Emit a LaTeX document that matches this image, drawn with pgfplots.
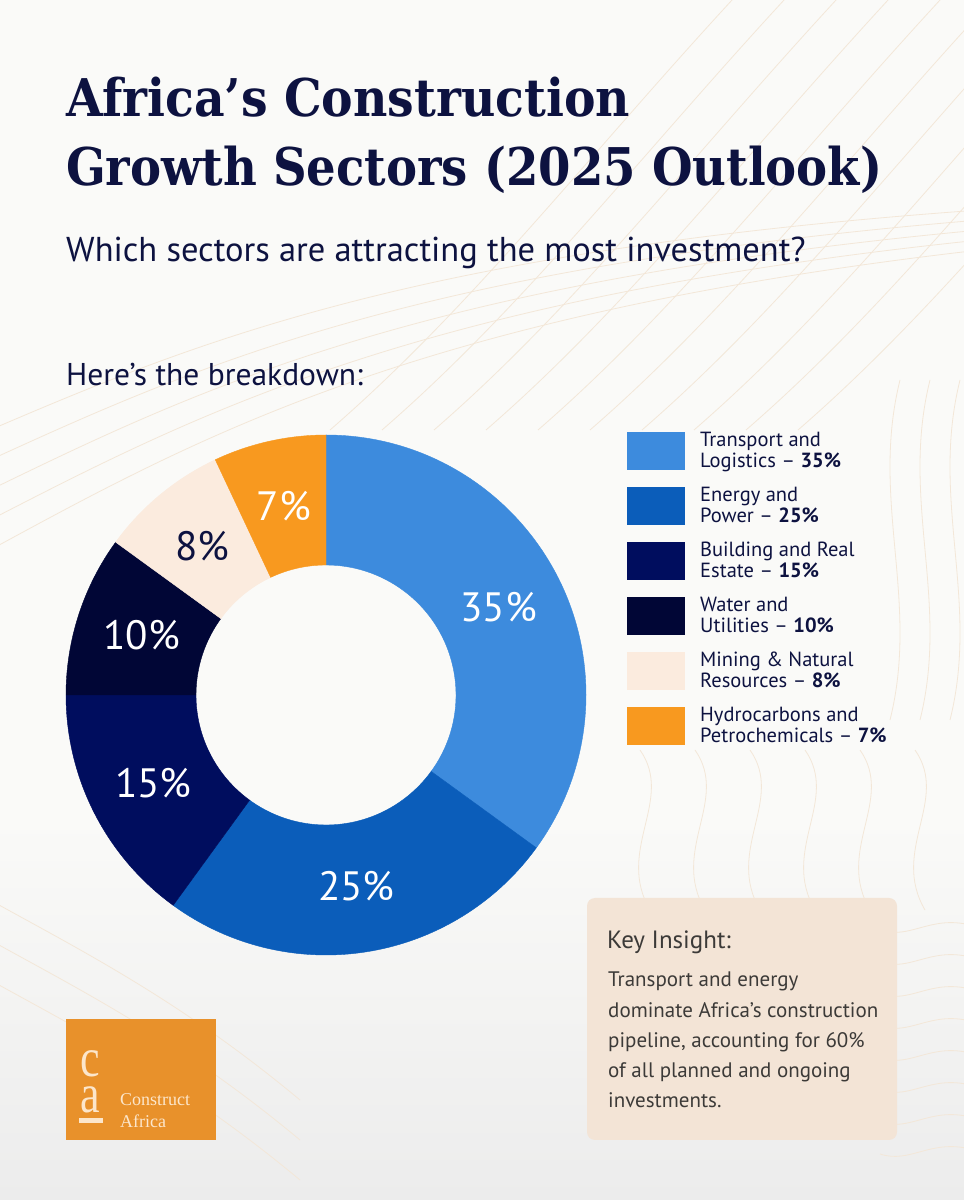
\documentclass[border=0pt]{standalone}
\usepackage{pgfplots}
\pgfplotsset{compat=1.18}
\usepackage{pgfplotstable}
\usepackage{graphicx}
\usepackage{fontspec}
\setmainfont{PT Sans}
\newfontfamily\titlefont{DejaVu Serif}
\newfontfamily\logofont{Liberation Serif}

\definecolor{bg}{HTML}{FAFAF8}
\definecolor{bgbottom}{HTML}{ECECEC}
\definecolor{navy}{HTML}{0D1240}
\definecolor{cTransport}{HTML}{3D8BDD}
\definecolor{cEnergy}{HTML}{0B5DBA}
\definecolor{cBuilding}{HTML}{000D5E}
\definecolor{cWater}{HTML}{010636}
\definecolor{cMining}{HTML}{FBEBDE}
\definecolor{cHydro}{HTML}{F8991F}
\definecolor{contour}{HTML}{F3E7D8}
\definecolor{insight}{HTML}{F3E4D6}
\definecolor{insighttext}{HTML}{3C3A38}
\definecolor{logo}{HTML}{E8912B}
\definecolor{logotext}{HTML}{FCE6CB}

% share of investment by sector, clockwise from 12 o'clock
\pgfplotstableread{
value colour     labelcolour
35    cTransport white
25    cEnergy    white
15    cBuilding  white
10    cWater     white
8     cMining    navy
7     cHydro     white
}\sectors

\begin{document}
\begin{tikzpicture}[x=1pt,y=1pt]
\useasboundingbox (0,0) rectangle (964,1200);
\fill[bg] (0,0) rectangle (964,1200);
\shade[bottom color=bgbottom, top color=bg] (0,0) rectangle (964,380);

% faint contour lines in the background
\begin{scope}
\clip (0,0) rectangle (964,1200);
\foreach \k in {0,...,9}{
  \draw[contour, line width=0.8pt] ({330+52*\k},770) .. controls ({480+52*\k},900) and ({600+52*\k},1060) .. ({760+52*\k},1230);
}
\foreach \k in {0,...,4}{
  \draw[contour, line width=0.8pt] (-10,{770-30*\k}) .. controls (200,{860-24*\k}) and (420,{950-16*\k}) .. (980,{990-10*\k});
}
\foreach \k in {0,...,5}{
  \draw[contour, line width=0.8pt] ({640+55*\k},450) .. controls ({675+55*\k},400) and ({615+55*\k},350) .. ({650+55*\k},290);
}
\foreach \k in {0,...,7}{
  \draw[contour, line width=0.8pt] (880,{270-32*\k}) .. controls (910,{260-32*\k}) and (930,{285-32*\k}) .. (970,{275-32*\k});
}
\foreach \k in {0,...,2}{
  \draw[contour, line width=0.8pt] ({900+30*\k},820) .. controls ({870+30*\k},700) and ({920+30*\k},600) .. ({890+30*\k},480);
  \draw[contour, line width=0.8pt] (-10,{300-40*\k}) .. controls (80,{250-40*\k}) and (180,{200-40*\k}) .. (300,{100-40*\k});
}
\end{scope}

% titles
\node[anchor=base west, inner sep=0, text=navy] at (66,1083)
  {\resizebox{564pt}{\height}{\fontsize{52}{60}\titlefont\bfseries Africa’s Construction}};
\node[anchor=base west, inner sep=0, text=navy] at (66,1014)
  {\resizebox{816pt}{\height}{\fontsize{52}{60}\titlefont\bfseries Growth Sectors (2025 Outlook)}};
\node[anchor=base west, inner sep=0, text=navy, font=\fontsize{34.5}{38}\selectfont] at (66,938)
  {Which sectors are attracting the most investment?};
\node[anchor=base west, inner sep=0, text=navy, font=\fontsize{31.5}{34}\selectfont] at (66,814)
  {Here’s the breakdown:};

% donut
\begin{axis}[
    at={(326pt,505pt)}, anchor=center,
    scale only axis, width=520pt, height=520pt,
    xmin=-1, xmax=1, ymin=-1, ymax=1,
    hide axis, clip=false,
]
\pgfplotsextra{
  \xdef\startangle{90}
  \foreach \i in {0,...,5}{
    \pgfplotstablegetelem{\i}{value}\of\sectors \let\v\pgfplotsretval
    \pgfplotstablegetelem{\i}{colour}\of\sectors \let\c\pgfplotsretval
    \pgfplotstablegetelem{\i}{labelcolour}\of\sectors \let\lc\pgfplotsretval
    \pgfmathsetmacro\a{\startangle}
    \pgfmathsetmacro\b{\startangle-3.6*\v}
    \pgfmathsetmacro\m{(\a+\b)/2}
    \fill[fill=\c, draw=\c, line width=0.4pt] (axis cs:{cos(\a)},{sin(\a)})
      arc[start angle=\a, end angle=\b, radius=260pt]
      -- (axis cs:{0.5*cos(\b)},{0.5*sin(\b)})
      arc[start angle=\b, end angle=\a, radius=130pt] -- cycle;
    \node[text=\lc, font=\fontsize{41}{44}\selectfont] at (axis cs:{0.745*cos(\m)},{0.745*sin(\m)}) {\v\%};
    \xdef\startangle{\b}
  }
}
\end{axis}

% legend
\foreach \i/\la/\lb in {0/Transport and/Logistics, 1/Energy and/Power,
    2/Building and Real/Estate, 3/Water and/Utilities,
    4/Mining \& Natural/Resources, 5/Hydrocarbons and/Petrochemicals}{
  \pgfplotstablegetelem{\i}{value}\of\sectors \let\v\pgfplotsretval
  \pgfplotstablegetelem{\i}{colour}\of\sectors \let\c\pgfplotsretval
  \pgfmathsetmacro\yt{768-55*\i}
  \fill[fill=\c] (627,{\yt-38}) rectangle (685,\yt);
  \node[anchor=base west, inner sep=0, text=navy, font=\fontsize{20.5}{22}\selectfont] at (700,{\yt-15}) {\la};
  \node[anchor=base west, inner sep=0, text=navy, font=\fontsize{20.5}{22}\selectfont] at (700,{\yt-36}) {\lb{} – \textbf{\v\%}};
}

% key insight box
\fill[insight, rounded corners=8pt] (587,60) rectangle (897,302);
\node[anchor=base west, inner sep=0, text=insighttext, font=\fontsize{25}{28}\selectfont] at (607,251) {Key Insight:};
\foreach \t [count=\j from 0] in {Transport and energy, dominate Africa’s construction,
    {pipeline, accounting for 60\%}, of all planned and ongoing, investments.}{
  \node[anchor=base west, inner sep=0, text=insighttext, font=\fontsize{21}{23}\selectfont] at (608,{213-30.2*\j}) {\t};
}

% logo
\fill[logo] (66,60) rectangle (216,181);
\node[anchor=base, inner sep=0, text=logotext] at (90,87)
  {\scalebox{1}[1.25]{\parbox[b]{30pt}{\centering\fontsize{44}{28.8}\logofont c\\a}}};
\fill[logotext] (79,77) rectangle (103,82);
\node[anchor=base west, inner sep=0, text=logotext, font=\fontsize{18}{20}\logofont] at (120,94) {Construct};
\node[anchor=base west, inner sep=0, text=logotext, font=\fontsize{18}{20}\logofont] at (120,72) {Africa};
\end{tikzpicture}
\end{document}
